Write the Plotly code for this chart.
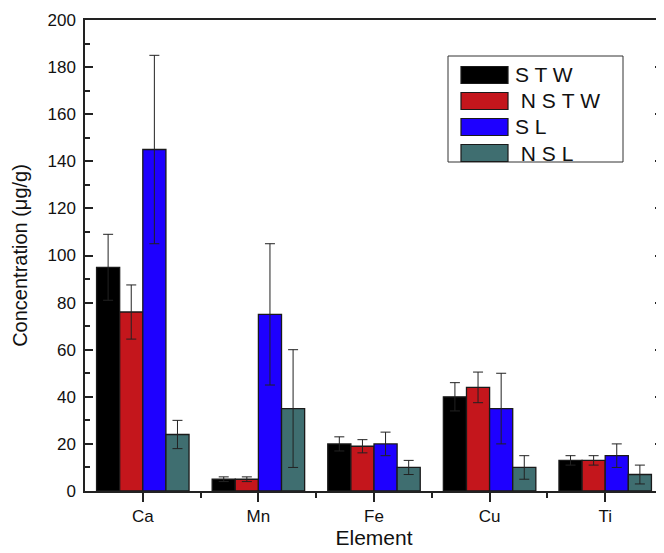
import plotly.graph_objects as go

elements = ["Ca", "Mn", "Fe", "Cu", "Ti"]
series_names = ["S T W", " N S T W", "S L", " N S L"]
stw = [95, 5, 20, 40, 13]
stw_err = [14, 1, 3, 6, 2]
nstw = [76, 5, 19, 44, 13]
nstw_err = [11.5, 1, 2.8, 6.5, 2]
sl = [145, 75, 20, 35, 15]
sl_err = [40, 30, 5, 15, 5]
nsl = [24, 35, 10, 10, 7]
nsl_err = [6, 25, 3, 5, 4]
colors = ["#000000", "#C4161C", "#1E00FF", "#3F6E70"]

values = [stw, nstw, sl, nsl]
errors = [stw_err, nstw_err, sl_err, nsl_err]
xs = list(range(len(elements)))

fig = go.Figure()
for name, v, e, c in zip(series_names, values, errors, colors):
    fig.add_trace(go.Bar(
        x=xs, y=v, name=name,
        marker=dict(color=c, line=dict(color="#1a1a1a", width=1.3)),
        error_y=dict(type="data", array=e, visible=True, color="#222222", thickness=1, width=5),
        showlegend=False,
    ))

# page body has an 8px default margin, so the figure is offset by 8px
fig.update_layout(
    width=656, height=545,
    margin=dict(l=77, r=1, t=12, b=62),
    barmode="group", bargap=0.2, bargroupgap=0,
    plot_bgcolor="white", paper_bgcolor="white",
    font=dict(family="Liberation Sans, Arial, sans-serif", color="#111111"),
)
fig.update_xaxes(
    range=[-0.5, 4.5], tickmode="array", tickvals=xs, ticktext=elements,
    ticks="outside", ticklen=9, tickwidth=1.5, tickcolor="#222",
    minor=dict(tickmode="array", tickvals=[0.5, 1.5, 2.5, 3.5], ticks="outside", ticklen=5, tickwidth=1.5, tickcolor="#222"),
    showline=True, linecolor="#222", linewidth=1.5, mirror=True,
    showgrid=False, zeroline=False, automargin=False,
    tickfont=dict(size=17),
    title=dict(text="Element", font=dict(size=21), standoff=3),
)
fig.update_yaxes(
    range=[0, 200], tickmode="linear", tick0=0, dtick=20,
    ticks="inside", ticklen=8, tickwidth=1.5, tickcolor="#222",
    minor=dict(tick0=0, dtick=10, ticks="inside", ticklen=5, tickwidth=1.5, tickcolor="#222"),
    showline=True, linecolor="#222", linewidth=1.5, mirror="allticks",
    showgrid=False, zeroline=False, automargin=False,
    tickfont=dict(size=17), ticklabelstandoff=4,
    title=dict(text="Concentration (μg/g)", font=dict(size=20), standoff=14),
)

# custom legend box (paper coordinates relative to plot area 85..663 x 20..491)
x0p = lambda px: (px - 85) / 578
y0p = lambda py: (491 - py) / 471
fig.add_shape(type="rect", xref="paper", yref="paper",
              x0=x0p(448), x1=x0p(623), y0=y0p(162), y1=y0p(56),
              line=dict(color="#333", width=1), fillcolor="white")
row_y = [75, 101, 127, 153]
for i, (name, c) in enumerate(zip(series_names, colors)):
    fig.add_shape(type="rect", xref="paper", yref="paper",
                  x0=x0p(461), x1=x0p(508), y0=y0p(row_y[i] + 8.5), y1=y0p(row_y[i] - 8.5),
                  line=dict(color="#1a1a1a", width=1.2), fillcolor=c)
    fig.add_annotation(xref="paper", yref="paper", x=x0p(513), y=y0p(row_y[i]),
                       text=name.replace(" ", "&nbsp;") if name.startswith(" ") else name,
                       showarrow=False, xanchor="left", yanchor="middle",
                       font=dict(size=21, color="#111"))

fig.write_html("out.html")
